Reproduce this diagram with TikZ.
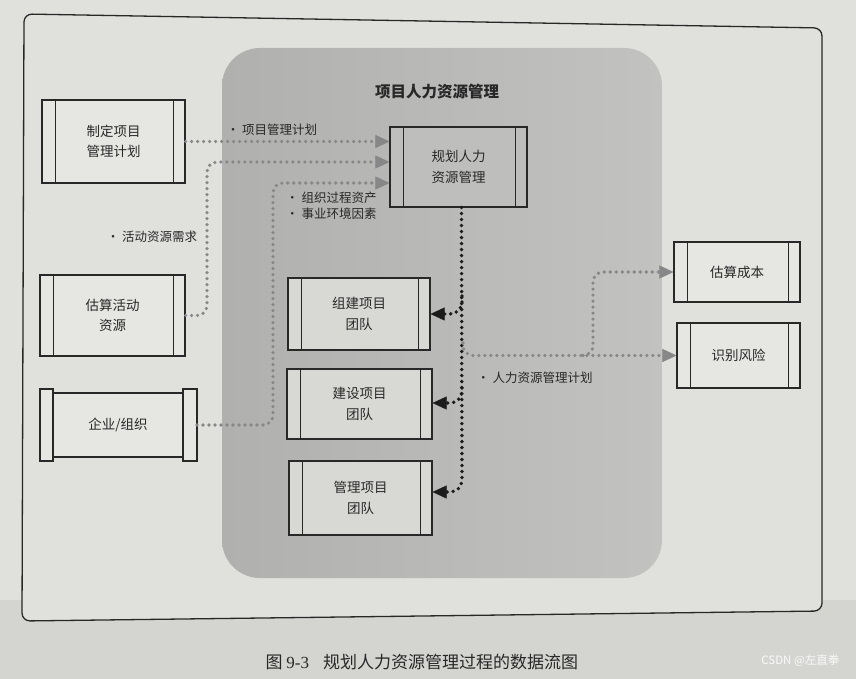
\documentclass[tikz,border=0pt]{standalone}
\usepackage{fontspec}
\setmainfont{Noto Sans CJK SC}
\newfontfamily\serifnum{Liberation Serif}
\usetikzlibrary{arrows.meta}
\definecolor{paper}{RGB}{224,224,221}
\definecolor{paperdark}{RGB}{212,212,209}
\definecolor{region}{RGB}{176,176,174}
\definecolor{regionlight}{RGB}{194,194,192}
\definecolor{boxin}{RGB}{216,216,213}
\definecolor{boxout}{RGB}{230,230,227}
\definecolor{boxmain}{RGB}{190,190,188}
\definecolor{ink}{RGB}{40,40,40}
\definecolor{dotgray}{RGB}{135,135,135}
\definecolor{dotdark}{RGB}{28,28,28}
\tikzset{
  proc/.style={draw=ink, line width=1.1pt, inner sep=0pt, align=center,
    font=\fontsize{13.5}{20.5}\selectfont, text=ink,
    path picture={\draw[ink,line width=0.9pt]
      ([xshift=13pt]path picture bounding box.north west) -- ([xshift=13pt]path picture bounding box.south west)
      ([xshift=-12pt]path picture bounding box.north east) -- ([xshift=-12pt]path picture bounding box.south east);}},
  plainbox/.style={draw=ink, line width=1.1pt, inner sep=0pt, align=center,
    font=\fontsize{13.5}{20.5}\selectfont, text=ink},
  flowgray/.style={draw=dotgray, line width=3.6pt, line cap=round, dash pattern=on 0pt off 6pt,
    rounded corners=10pt},
  flowdark/.style={draw=dotdark, line width=3.8pt, line cap=round, dash pattern=on 0pt off 6pt,
    rounded corners=12pt},
  tipgray/.style={-{Triangle[length=14pt,width=13pt,line width=0.4pt,color=dotgray]}},
  tipdark/.style={-{Triangle[length=14pt,width=13pt,line width=0.4pt,color=dotdark]}},
  lbl/.style={font=\fontsize{12.5}{14}\selectfont, text=ink, inner sep=1pt},
}
\begin{document}
\begin{tikzpicture}[x=1pt,y=-1pt]
\useasboundingbox (0,0) rectangle (856,679);
\fill[paper] (0,0) rectangle (856,679);
\fill[paperdark] (0,600) rectangle (856,679);
% outer frame
\draw[ink, line width=1.3pt, rounded corners=8pt, fill=paper] (24,14) -- (822,28) -- (822,611) -- (22,621) -- cycle;
% central region
\node[rounded corners=38pt, left color=region, right color=regionlight, minimum width=440pt, minimum height=530pt, inner sep=0pt] (region) at (442,313) {};
\node[font=\fontsize{15.5}{18}\selectfont\bfseries, text=ink] (title) at (437,92) {项目人力资源管理};

% boxes
\node[proc, fill=boxout, minimum width=143pt, minimum height=83pt] (plan) at (113.5,141.5) {制定项目\\管理计划};
\node[proc, fill=boxout, minimum width=145pt, minimum height=81pt] (est) at (112.5,315.5) {估算活动\\资源};
\node[plainbox, fill=boxout, minimum width=130pt, minimum height=64pt] (org) at (118,425) {企业/组织};
\draw[ink, line width=1.1pt, fill=boxout] (40,389) rectangle (53,461);
\draw[ink, line width=1.1pt, fill=boxout] (183,389) rectangle (197,461);
\coordinate (orgout) at (197,425);

\node[proc, fill=boxmain, minimum width=137pt, minimum height=80pt] (hr) at (458.5,167) {规划人力\\资源管理};
\node[proc, fill=boxin, minimum width=142pt, minimum height=72pt] (acq) at (359,314) {组建项目\\团队};
\node[proc, fill=boxin, minimum width=145pt, minimum height=70pt] (dev) at (359.5,404) {建设项目\\团队};
\node[proc, fill=boxin, minimum width=143pt, minimum height=74pt] (mng) at (360.5,498) {管理项目\\团队};
\node[proc, fill=boxout, minimum width=126pt, minimum height=60pt] (cost) at (737,272) {估算成本};
\node[proc, fill=boxout, minimum width=123pt, minimum height=65pt] (risk) at (738.5,355.5) {识别风险};

% gray inputs
\draw[flowgray, tipgray] (plan.east) -- ([yshift=25.5pt]hr.west);
\draw[flowgray, tipgray] (est.east) -- (207,315.5) -- (207,162) -- ([yshift=5pt]hr.west);
\draw[flowgray, tipgray] (orgout) -- (273,425) -- (273,183) -- ([yshift=-16pt]hr.west);

% dark outputs
\draw[flowdark, tipdark] ([xshift=3pt]hr.south) -- (462,492) -- ([yshift=6pt]mng.east);
\draw[flowdark, tipdark] (462,296) -- (462,314) -- (acq.east);
\draw[flowdark, tipdark] (462,388) -- (462,403) -- ([yshift=1pt]dev.east);

% gray outputs
\draw[flowgray, tipgray] (463,343) -- (463,355.5) -- (risk.west);
\draw[flowgray, tipgray] (583,355.5) -- (593,355.5) -- (593,272) -- (cost.west);

% labels
\node[lbl] (l1) at (272,130) {• 项目管理计划};
\node[lbl] (l2) at (152,237) {• 活动资源需求};
\node[lbl, anchor=west] (l3) at (285,198) {• 组织过程资产};
\node[lbl, anchor=west] (l4) at (285,214) {• 事业环境因素};
\node[lbl, anchor=west] (l5) at (476,378) {• 人力资源管理计划};

% caption
\node[font=\fontsize{17}{20}\selectfont, text=ink, anchor=west] (cap) at (262,662) {图 {\serifnum 9-3}\hspace{14pt}规划人力资源管理过程的数据流图};
\node[font=\fontsize{11.5}{14}\selectfont, text=white!96!gray, anchor=east] (wm) at (843,661) {CSDN @左直拳};
\end{tikzpicture}
\end{document}
